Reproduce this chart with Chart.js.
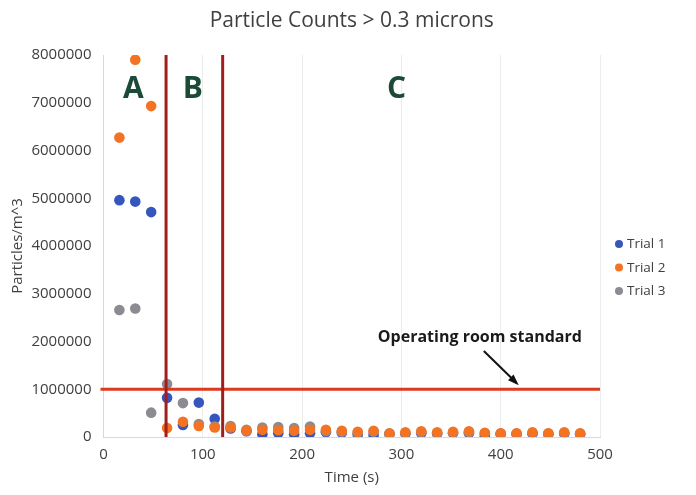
<!DOCTYPE html>
<html><head><meta charset="utf-8">
<script src="https://cdn.jsdelivr.net/npm/chart.js@4.4.1/dist/chart.umd.min.js"></script>
<style>html,body{margin:0;padding:0;background:#fff;}#wrap{width:696px;height:495px;}</style>
</head><body><div id="wrap"><canvas id="c"></canvas></div>
<script>
const chartTitle = 'Particle Counts > 0.3 microns';
const seriesNames = ['Trial 1', 'Trial 2', 'Trial 3'];
const times = [16,32,48,64,80,96,112,128,144,160,176,192,208,224,240,256,272,288,304,320,336,352,368,384,400,416,432,448,464,480];
const trial1 = [4960000,4930000,4710000,820000,250000,720000,380000,180000,120000,60000,80000,60000,80000,100000,90000,50000,40000,60000,70000,80000,70000,80000,80000,20000,60000,60000,70000,60000,70000,60000];
const trial2 = [6270000,7900000,6930000,190000,320000,230000,200000,200000,130000,150000,140000,130000,150000,150000,130000,110000,130000,80000,100000,120000,100000,110000,120000,90000,80000,80000,100000,80000,100000,80000];
const trial3 = [2660000,2690000,510000,1110000,710000,270000,220000,230000,150000,200000,210000,190000,220000,120000,110000,90000,110000,70000,80000,100000,80000,90000,100000,80000,70000,70000,80000,70000,80000,70000];
const phaseBounds = [63, 120];
const standardLevel = 1000000;
const phaseLabels = [{text:'A', t:30}, {text:'B', t:90}, {text:'C', t:295}];
const phaseLabelLevel = 7270000;
const standardText = 'Operating room standard';

const colors = ['#3557bd', '#f47322', '#8e8a92'];
const toPts = arr => times.map((t, i) => ({x: t, y: arr[i]}));
const series = [trial1, trial2, trial3];
const orders = [3, 1, 2];

const overlay = {
  id: 'overlay',
  afterDatasetsDraw(chart) {
    const {ctx, scales: {x, y}} = chart;
    ctx.save();
    ctx.strokeStyle = '#dc3a1f';
    ctx.lineWidth = 3;
    ctx.beginPath();
    ctx.moveTo(x.getPixelForValue(0) - 3, y.getPixelForValue(standardLevel));
    ctx.lineTo(x.getPixelForValue(500), y.getPixelForValue(standardLevel));
    ctx.stroke();
    ctx.strokeStyle = '#a01f1c';
    ctx.lineWidth = 3;
    phaseBounds.forEach(t => {
      const px = x.getPixelForValue(t);
      ctx.beginPath();
      ctx.moveTo(px, y.getPixelForValue(8000000));
      ctx.lineTo(px, y.getPixelForValue(0));
      ctx.stroke();
    });
    ctx.fillStyle = '#1b4a37';
    ctx.font = 'bold 30px "Open Sans"';
    ctx.textAlign = 'center';
    ctx.textBaseline = 'middle';
    phaseLabels.forEach(l => ctx.fillText(l.text, x.getPixelForValue(l.t), y.getPixelForValue(phaseLabelLevel)));
    ctx.fillStyle = '#1a1a1a';
    ctx.font = 'bold 16px "Open Sans"';
    ctx.fillText(standardText, x.getPixelForValue(379), y.getPixelForValue(2090000));
    const x1 = x.getPixelForValue(383), y1 = y.getPixelForValue(1800000);
    const x2 = x.getPixelForValue(416), y2 = y.getPixelForValue(1130000);
    ctx.strokeStyle = '#111';
    ctx.lineWidth = 2;
    ctx.beginPath(); ctx.moveTo(x1, y1); ctx.lineTo(x2, y2); ctx.stroke();
    const ang = Math.atan2(y2 - y1, x2 - x1);
    ctx.fillStyle = '#111';
    ctx.beginPath();
    ctx.moveTo(x2 + 3 * Math.cos(ang), y2 + 3 * Math.sin(ang));
    ctx.lineTo(x2 - 9 * Math.cos(ang - 0.45), y2 - 9 * Math.sin(ang - 0.45));
    ctx.lineTo(x2 - 9 * Math.cos(ang + 0.45), y2 - 9 * Math.sin(ang + 0.45));
    ctx.closePath(); ctx.fill();
    ctx.restore();
  },
  afterDraw(chart) {
    const {ctx, chartArea} = chart;
    ctx.save();
    // title
    ctx.fillStyle = '#404040';
    ctx.font = '21px "Open Sans"';
    ctx.textAlign = 'center';
    ctx.textBaseline = 'middle';
    ctx.fillText(chartTitle, (chartArea.left + chartArea.right) / 2, 21);
    // legend
    ctx.font = '13.5px "Open Sans"';
    ctx.textAlign = 'left';
    seriesNames.forEach((name, i) => {
      const yy = 244 + i * 23.5;
      const xx = chartArea.right + 19;
      ctx.fillStyle = colors[i];
      ctx.beginPath(); ctx.arc(xx, yy, 4, 0, Math.PI * 2); ctx.fill();
      ctx.fillStyle = '#404040';
      ctx.fillText(name, xx + 8, yy + 0.5);
    });
    ctx.restore();
  }
};

new Chart(document.getElementById('c'), {
  type: 'scatter',
  data: {
    datasets: series.map((s, i) => ({
      label: seriesNames[i],
      data: toPts(s),
      backgroundColor: colors[i],
      borderColor: colors[i],
      borderWidth: 0,
      pointRadius: 5.3,
      pointHoverRadius: 5.3,
      order: orders[i]
    }))
  },
  options: {
    responsive: true,
    maintainAspectRatio: false,
    animation: false,
    layout: {padding: {left: 0, right: 96, top: 55, bottom: 0}},
    plugins: {
      legend: {display: false},
      tooltip: {enabled: false},
      title: {display: false}
    },
    scales: {
      x: {
        type: 'linear', min: 0, max: 500,
        ticks: {stepSize: 100, color: '#404040', font: {family: 'Open Sans', size: 15}, padding: 9},
        grid: {color: '#ececec', drawTicks: false},
        border: {color: '#d9d9d9'},
        title: {display: true, text: 'Time (s)', color: '#404040', font: {family: 'Open Sans', size: 15}, padding: {top: 0, bottom: 8}},
        afterFit(s) { s.height = 58; }
      },
      y: {
        min: 0, max: 8000000,
        ticks: {stepSize: 1000000, color: '#404040', font: {family: 'Open Sans', size: 15}, padding: 12, callback: v => String(v)},
        grid: {display: false, drawTicks: false},
        border: {color: '#e3d3d3'},
        title: {display: true, text: 'Particles/m^3', color: '#404040', font: {family: 'Open Sans', size: 15}, padding: {top: 9, bottom: 0}},
        afterFit(s) { s.width = 103.5; }
      }
    }
  },
  plugins: [overlay]
});
</script></body></html>
